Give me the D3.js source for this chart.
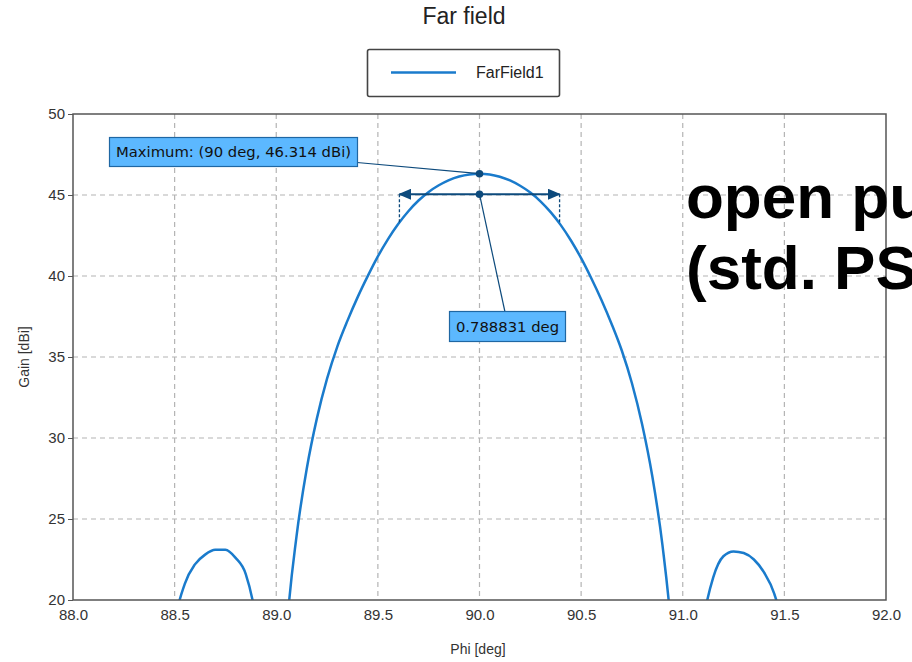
<!DOCTYPE html>
<html lang="en">
<head>
<meta charset="utf-8">
<title>Far field</title>
<script src="https://cdn.jsdelivr.net/npm/d3@7"></script>
<style>
  body { margin: 0; background: #fff; overflow: hidden; }
  svg { display: block; font-family: "Liberation Sans", Arial, sans-serif; }
  .grid line { stroke: #b4b4b4; stroke-width: 1.2; stroke-dasharray: 5,4; }
  .axis text { fill: #333; font-size: 15px; }
  .axis path { display: none; }
  .axis line { stroke: #555; }
</style>
</head>
<body>
<script>
// phi angle [deg]
var phi = [88.00, 88.05, 88.10, 88.15, 88.20, 88.25, 88.30, 88.35, 88.40, 88.45,
           88.50, 88.55, 88.60, 88.65, 88.70, 88.75, 88.80, 88.85, 88.90, 88.95,
           89.00, 89.05, 89.10, 89.15, 89.20, 89.25, 89.30, 89.35, 89.40, 89.45,
           89.50, 89.55, 89.60, 89.65, 89.70, 89.75, 89.80, 89.85, 89.90, 89.95,
           90.00, 90.05, 90.10, 90.15, 90.20, 90.25, 90.30, 90.35, 90.40, 90.45,
           90.50, 90.55, 90.60, 90.65, 90.70, 90.75, 90.80, 90.85, 90.90, 90.95,
           91.00, 91.05, 91.10, 91.15, 91.20, 91.25, 91.30, 91.35, 91.40, 91.45,
           91.50, 91.55, 91.60, 91.65, 91.70, 91.75, 91.80, 91.85, 91.90, 91.95,
           92.00];
// gain [dBi] (FarField1)
var gain = [14.0, 16.5, 18.0, 18.6, 18.4, 17.3, 15.0, 10.5, 4.0, 12.5,
            18.5, 21.0, 22.2, 22.8, 23.1, 23.1, 22.6, 21.6, 18.8, 13.0,
            6.0, 17.89, 23.96, 28.10, 31.21, 33.66, 35.63, 37.23, 38.68, 39.99,
            41.21, 42.28, 43.21, 44.00, 44.66, 45.19, 45.60, 45.92, 46.14, 46.27,
            46.314, 46.27, 46.13, 45.90, 45.57, 45.15, 44.61, 43.94, 43.14, 42.19,
            41.10, 39.86, 38.52, 37.04, 35.40, 33.38, 30.85, 27.65, 23.40, 17.2,
            6.0, 13.0, 18.6, 21.4, 22.7, 23.0, 22.9, 22.5, 21.7, 20.4,
            17.8, 12.0, 4.0, 11.0, 15.5, 17.6, 18.3, 18.2, 17.2, 15.3,
            12.0];

var xTicks = [88.0, 88.5, 89.0, 89.5, 90.0, 90.5, 91.0, 91.5, 92.0];
var yTicks = [20, 25, 30, 35, 40, 45, 50];

// markers
var maxPoint = [90, 46.314];
var bwLevel = 45.05;          // arrow drawn at this gain
var bwEdges = [89.606, 90.394];
var bwDrop = 43.314;          // -3 dB level
var maxLabel = "Maximum: (90 deg, 46.314 dBi)";
var bwLabel = "0.788831 deg";

var w = 912, h = 662;
var mLeft = 73, mRight = 886, mTop = 114, mBottom = 600;

var x = d3.scaleLinear().domain([88, 92]).range([mLeft, mRight]);
var y = d3.scaleLinear().domain([20, 50]).range([mBottom, mTop]);

var svg = d3.select("body").append("svg")
  .attr("width", w).attr("height", h);

var defs = svg.append("defs");
defs.append("clipPath").attr("id", "plot")
  .append("rect").attr("x", mLeft).attr("y", mTop)
  .attr("width", mRight - mLeft).attr("height", mBottom - mTop);

// title
svg.append("text").attr("x", 464).attr("y", 24).attr("text-anchor", "middle")
  .attr("font-size", "23px").attr("fill", "#222").text("Far field");

// legend
var lg = svg.append("g");
lg.append("rect").attr("x", 367.5).attr("y", 49.5).attr("width", 192).attr("height", 47)
  .attr("rx", 2).attr("fill", "#fff").attr("stroke", "#444").attr("stroke-width", 1.6);
lg.append("line").attr("x1", 391).attr("x2", 456).attr("y1", 72.5).attr("y2", 72.5)
  .attr("stroke", "#1a7bcc").attr("stroke-width", 2.5);
lg.append("text").attr("x", 476).attr("y", 78).attr("font-size", "16px")
  .attr("fill", "#222").text("FarField1");

// grid
var grid = svg.append("g").attr("class", "grid");
grid.selectAll(".vx").data(xTicks.slice(1, -1)).enter().append("line")
  .attr("x1", function(d) { return x(d); }).attr("x2", function(d) { return x(d); })
  .attr("y1", mTop).attr("y2", mBottom);
grid.selectAll(".hy").data(yTicks.slice(1, -1)).enter().append("line")
  .attr("y1", function(d) { return y(d); }).attr("y2", function(d) { return y(d); })
  .attr("x1", mLeft).attr("x2", mRight);

// axes
svg.append("g").attr("class", "axis")
  .attr("transform", "translate(0," + mBottom + ")")
  .call(d3.axisBottom(x).tickValues(xTicks).tickFormat(d3.format(".1f")).tickSize(0).tickPadding(9));
svg.append("g").attr("class", "axis")
  .attr("transform", "translate(" + mLeft + ",0)")
  .call(d3.axisLeft(y).tickValues(yTicks).tickSize(5).tickPadding(3));

svg.append("text").attr("x", 478).attr("y", 654).attr("text-anchor", "middle")
  .attr("font-size", "14px").attr("fill", "#333").text("Phi [deg]");
svg.append("text").attr("transform", "translate(29,357) rotate(-90)")
  .attr("text-anchor", "middle").attr("font-size", "14px").attr("fill", "#333")
  .text("Gain [dBi]");

// curve
var line = d3.line()
  .x(function(d, i) { return x(phi[i]); })
  .y(function(d) { return y(d); })
  .curve(d3.curveMonotoneX);
svg.append("path").datum(gain)
  .attr("clip-path", "url(#plot)")
  .attr("fill", "none").attr("stroke", "#1a7bcc").attr("stroke-width", 2.5)
  .attr("stroke-linejoin", "round")
  .attr("d", line);

// frame
svg.append("rect").attr("x", mLeft).attr("y", mTop)
  .attr("width", mRight - mLeft).attr("height", mBottom - mTop)
  .attr("fill", "none").attr("stroke", "#555").attr("stroke-width", 1.5);

// beamwidth marker
var mk = "#0d4a7c";
defs.append("marker").attr("id", "arr").attr("viewBox", "0 0 10 10")
  .attr("refX", 9).attr("refY", 5).attr("markerWidth", 13).attr("markerHeight", 11)
  .attr("markerUnits", "userSpaceOnUse").attr("orient", "auto-start-reverse")
  .attr("preserveAspectRatio", "none")
  .append("path").attr("d", "M0,0L10,5L0,10Z").attr("fill", mk);

bwEdges.forEach(function(e) {
  svg.append("line").attr("x1", x(e)).attr("x2", x(e))
    .attr("y1", y(bwLevel)).attr("y2", y(bwDrop))
    .attr("stroke", mk).attr("stroke-width", 1.3).attr("stroke-dasharray", "3,2");
});
svg.append("line").attr("x1", x(bwEdges[0])).attr("x2", x(bwEdges[1]))
  .attr("y1", y(bwLevel)).attr("y2", y(bwLevel))
  .attr("stroke", mk).attr("stroke-width", 2)
  .attr("marker-start", "url(#arr)").attr("marker-end", "url(#arr)");

// leader lines
svg.append("line").attr("x1", 357).attr("y1", 162.5)
  .attr("x2", x(maxPoint[0])).attr("y2", y(maxPoint[1]))
  .attr("stroke", mk).attr("stroke-width", 1.2);
svg.append("line").attr("x1", x(maxPoint[0])).attr("y1", y(bwLevel))
  .attr("x2", 505).attr("y2", 312)
  .attr("stroke", mk).attr("stroke-width", 1.2);

svg.append("circle").attr("cx", x(maxPoint[0])).attr("cy", y(maxPoint[1])).attr("r", 3.8).attr("fill", mk);
svg.append("circle").attr("cx", x(maxPoint[0])).attr("cy", y(bwLevel)).attr("r", 3.8).attr("fill", mk);

// label boxes
function box(x0, y0, bw, bh, txt) {
  svg.append("rect").attr("x", x0).attr("y", y0).attr("width", bw).attr("height", bh)
    .attr("fill", "#5cb8ff").attr("stroke", "#1f67a3").attr("stroke-width", 1.2);
  svg.append("text").attr("x", x0 + bw / 2).attr("y", y0 + bh / 2 + 5)
    .attr("text-anchor", "middle").attr("font-family", "DejaVu Sans")
    .attr("font-size", "14.8px").attr("fill", "#111").text(txt);
}
box(109.5, 137.5, 248, 29, maxLabel);
box(449.5, 311.5, 116, 30, bwLabel);

// overlay text
svg.append("text").attr("x", 686).attr("y", 218).attr("font-size", "62px")
  .attr("font-weight", "bold").attr("fill", "#000").text("open pu");
svg.append("text").attr("x", 686).attr("y", 289).attr("font-size", "62px")
  .attr("font-weight", "bold").attr("fill", "#000").text("(std. PS");
</script>
</body>
</html>
